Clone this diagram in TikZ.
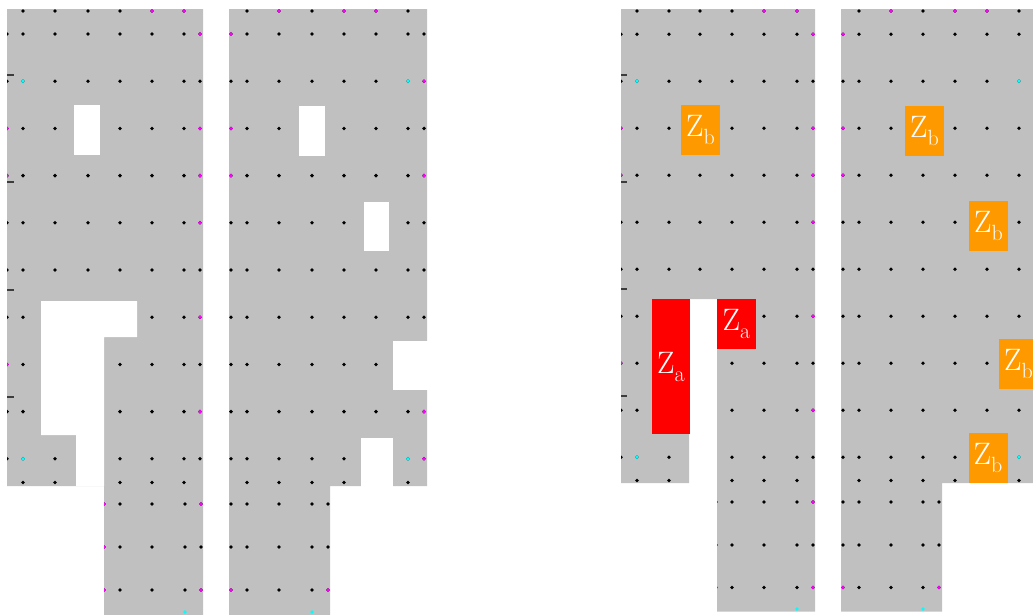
\documentclass[tikz,border=0pt]{standalone}
\usepackage{fontspec}
\definecolor{pgray}{RGB}{192,192,192}
\definecolor{zred}{RGB}{255,0,0}
\definecolor{zorange}{RGB}{255,153,0}
\definecolor{dmag}{RGB}{255,0,255}
\definecolor{dcyan}{RGB}{0,255,255}
\definecolor{tickc}{RGB}{60,60,60}
\newcommand\mydot[3]{\fill[#1] (#2,#3) circle (1.9);}
\newcommand\zlab[1]{Z\raisebox{-8pt}{\fontsize{22}{24}\selectfont #1}}
\tikzset{
  zbox/.style={inner sep=0pt, text=white, font=\fontsize{31}{36}\selectfont},
  hole/.style={fill=white},
  tickline/.style={draw=tickc, line width=1.2pt},
}
\begin{document}
\begin{tikzpicture}[x=1pt,y=-1pt]
\clip (0,0) rectangle (1033,614);
\useasboundingbox (0,0) rectangle (1033,614);
% ---------------- Panel 1
\begin{scope}
\clip (7,9) -- (203,9) -- (203,620) -- (104,620) -- (104,486) -- (7,486) -- cycle;
\fill[pgray] (0,0) rectangle (1040,620);
\foreach \x in {23,55,88,120,152,184} {\mydot{black}{\x}{11}}
\foreach \y in {34,81.2,128.4,175.6,222.8,270,317.2,364.4,411.6,458.8}
  \foreach \x in {7,23,55,88,120,152,184,200} {\mydot{black}{\x}{\y}}
\foreach \x in {23,55,88,120,152,184} {\mydot{black}{\x}{482.5}}
\foreach \y in {504,547,590} \foreach \x in {104,120,152,185,201} {\mydot{black}{\x}{\y}}
\mydot{dmag}{152}{11}\mydot{dmag}{184}{11}\mydot{dmag}{200}{34}
\mydot{dcyan}{23}{81.2}\mydot{dmag}{7}{128.4}\mydot{dmag}{200}{128.4}
\mydot{dmag}{7}{175.6}\mydot{dmag}{200}{175.6}\mydot{dmag}{200}{222.8}
\mydot{dmag}{200}{317.2}\mydot{dmag}{7}{364.4}\mydot{dmag}{200}{411.6}
\mydot{dcyan}{23}{458.8}
\mydot{dmag}{104}{504}\mydot{dmag}{201}{504}\mydot{dmag}{104}{547}
\mydot{dmag}{104}{590}\mydot{dmag}{201}{590}\mydot{dcyan}{185}{612}
\end{scope}
\fill[hole] (74,105) rectangle (100,155);
\fill[hole] (41,301) -- (137,301) -- (137,337) -- (104,337) -- (104,486) -- (76,486) -- (76,435) -- (41,435) -- cycle;
\foreach \y in {75,182,290,397} {\draw[tickline] (7,\y) -- (14,\y);}
% ---------------- Panel 2
\begin{scope}
\clip (229,9) -- (427,9) -- (427,486) -- (330,486) -- (330,620) -- (229,620) -- cycle;
\fill[pgray] (0,0) rectangle (1040,620);
\foreach \x in {247,279,312,344,376,408} {\mydot{black}{\x}{11}}
\foreach \y in {34,81.2,128.4,175.6,222.8,270,317.2,364.4,411.6,458.8}
  \foreach \x in {231,247,279,312,344,376,408,424} {\mydot{black}{\x}{\y}}
\foreach \x in {247,279,312,344,376,408} {\mydot{black}{\x}{482.5}}
\foreach \y in {504,547,590} \foreach \x in {231,247,279,312,328} {\mydot{black}{\x}{\y}}
\mydot{dmag}{279}{11}\mydot{dmag}{344}{11}\mydot{dmag}{376}{11}
\mydot{dmag}{231}{34}\mydot{dcyan}{408}{81.2}\mydot{dmag}{424}{81.2}
\mydot{dmag}{231}{128.4}\mydot{dmag}{231}{175.6}\mydot{dmag}{424}{175.6}
\mydot{dmag}{424}{411.6}\mydot{dcyan}{408}{458.8}\mydot{dmag}{424}{458.8}
\mydot{dmag}{231}{590}\mydot{dmag}{328}{590}\mydot{dcyan}{312}{612}
\end{scope}
\fill[hole] (299,106) rectangle (325,156);
\fill[hole] (364,202) rectangle (389,251);
\fill[hole] (393,341) rectangle (428,390);
\fill[hole] (361,438) rectangle (393,487);
% ---------------- Panel 3
\begin{scope}
\clip (621,9) -- (815,9) -- (815,611.5) -- (717,611.5) -- (717,299) -- (689,299) -- (689,483) -- (621,483) -- cycle;
\fill[pgray] (0,0) rectangle (1040,620);
\foreach \x in {637,669,700,732,764,797} {\mydot{black}{\x}{11}}
\foreach \y in {34.3,81.3,128.3,175.3,222.3,269.3,316.3,363.3,410.3,457.3}
  \foreach \x in {621,637,669,700,732,764,797,813} {\mydot{black}{\x}{\y}}
\foreach \x in {637,669,732,764,797} {\mydot{black}{\x}{480.5}}
\foreach \y in {502,545,587.5} \foreach \x in {716,732,764,797,813} {\mydot{black}{\x}{\y}}
\mydot{dmag}{764}{11}\mydot{dmag}{797}{11}\mydot{dmag}{813}{34.3}
\mydot{dcyan}{637}{81.3}\mydot{dmag}{621}{128.3}\mydot{dmag}{813}{128.3}
\mydot{dmag}{621}{175.3}\mydot{dmag}{813}{175.3}\mydot{dmag}{813}{222.3}
\mydot{dmag}{813}{316.3}\mydot{dmag}{621}{363.3}\mydot{dmag}{813}{410.3}
\mydot{dcyan}{637}{457.3}
\mydot{dmag}{716}{502}\mydot{dmag}{813}{502}\mydot{dmag}{716}{545}
\mydot{dmag}{716}{587.5}\mydot{dmag}{813}{587.5}\mydot{dcyan}{797}{609}
\end{scope}
\foreach \y in {75,182,289,396} {\draw[tickline] (621,\y) -- (627,\y);}
% ---------------- Panel 4
\begin{scope}
\clip (841,9) -- (1040,9) -- (1040,483) -- (942,483) -- (942,611.5) -- (841,611.5) -- cycle;
\fill[pgray] (0,0) rectangle (1040,620);
\foreach \x in {859,891,923,955,987,1019} {\mydot{black}{\x}{11}}
\foreach \y in {34.3,81.3,128.3,175.3,222.3,269.3,316.3,363.3,410.3,457.3}
  \foreach \x in {843,859,891,923,955,987,1019} {\mydot{black}{\x}{\y}}
\foreach \x in {859,891,923,955,987,1019} {\mydot{black}{\x}{480.5}}
\foreach \y in {502,545,587.5} \foreach \x in {843,859,891,923,939} {\mydot{black}{\x}{\y}}
\mydot{dmag}{891}{11}\mydot{dmag}{955}{11}\mydot{dmag}{987}{11}
\mydot{dmag}{843}{34.3}\mydot{dcyan}{1019}{81.3}
\mydot{dmag}{843}{128.3}\mydot{dmag}{843}{175.3}
\mydot{dcyan}{1019}{457.3}
\mydot{dmag}{843}{587.5}\mydot{dmag}{939}{587.5}\mydot{dcyan}{923}{609}
\end{scope}
% ---------------- Labelled blocks
\node[zbox, fill=zorange, minimum width=39pt, minimum height=50pt] (zb1) at (700.5,130) {\zlab{b}};
\node[zbox, fill=zred, minimum width=38pt, minimum height=135pt] (za1) at (671,366.5) {\zlab{a}};
\node[zbox, fill=zred, minimum width=39pt, minimum height=50pt] (za2) at (736.5,324) {\zlab{a}};
\node[zbox, fill=zorange, minimum width=39pt, minimum height=50pt] (zb2) at (924.5,130.5) {\zlab{b}};
\node[zbox, fill=zorange, minimum width=39pt, minimum height=50pt] (zb3) at (988.5,225.5) {\zlab{b}};
\node[zbox, fill=zorange, minimum width=39pt, minimum height=50pt] (zb4) at (1018.5,364) {\zlab{b}};
\node[zbox, fill=zorange, minimum width=39pt, minimum height=50pt] (zb5) at (988,458) {\zlab{b}};
\end{tikzpicture}
\end{document}
